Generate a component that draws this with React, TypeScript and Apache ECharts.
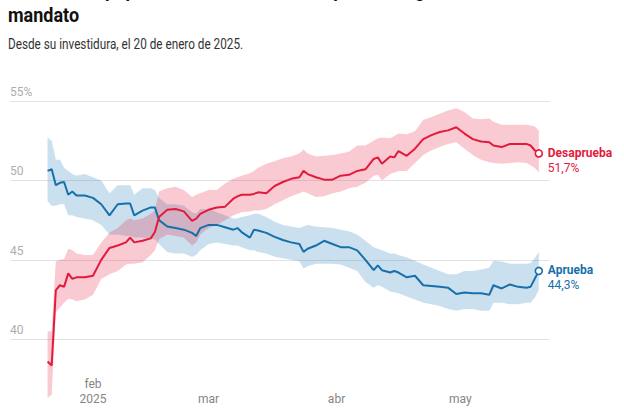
import React, { useEffect, useRef } from "react";
import * as echarts from "echarts";

const dates = ["2025-01-21","2025-01-22","2025-01-23","2025-01-24","2025-01-25","2025-01-26","2025-01-27","2025-01-28","2025-01-30","2025-02-01",
"2025-02-03","2025-02-05","2025-02-07","2025-02-09","2025-02-10","2025-02-11","2025-02-13","2025-02-15","2025-02-16","2025-02-17",
"2025-02-19","2025-02-21","2025-02-23","2025-02-25","2025-02-26","2025-02-27","2025-03-01","2025-03-03","2025-03-05","2025-03-07",
"2025-03-08","2025-03-09","2025-03-11","2025-03-12","2025-03-13","2025-03-15","2025-03-17","2025-03-19","2025-03-21","2025-03-23",
"2025-03-24","2025-03-25","2025-03-27","2025-03-29","2025-03-31","2025-04-02","2025-04-04","2025-04-06","2025-04-08","2025-04-10",
"2025-04-11","2025-04-12","2025-04-14","2025-04-15","2025-04-16","2025-04-18","2025-04-20","2025-04-22","2025-04-24","2025-04-26",
"2025-04-28","2025-04-30","2025-05-02","2025-05-04","2025-05-06","2025-05-08","2025-05-09","2025-05-11","2025-05-13","2025-05-15",
"2025-05-17","2025-05-18","2025-05-19","2025-05-20"];

const approve = [50.6,50.7,49.7,49.85,49.9,49.1,49.3,49.05,49.05,48.9,
48.5,47.8,48.5,48.55,48.55,47.8,48.1,48.3,48.3,47.5,
47.1,47.0,46.9,46.7,46.5,47.0,47.2,47.2,47.05,46.9,
47.0,46.75,46.4,46.9,46.85,46.7,46.45,46.25,46.1,46.0,
45.5,45.7,45.9,46.2,46.0,45.8,45.8,45.6,45.0,44.35,
44.65,44.35,44.2,44.3,44.2,43.9,44.0,43.4,43.35,43.3,
43.25,42.85,42.95,42.9,42.9,42.8,43.4,43.2,43.45,43.3,
43.25,43.3,43.8,44.3];

const approveLow = [48.7,48.4,48.4,48.5,48.5,47.8,47.8,47.7,47.6,47.5,
47.2,46.6,46.6,46.5,46.5,46.4,46.4,46.3,46.3,46.0,
45.5,45.4,45.4,45.2,45.3,45.6,46.0,46.1,46.0,45.9,
45.9,45.8,45.6,45.6,45.5,45.4,45.2,45.1,45.0,44.9,
44.45,44.6,44.75,44.75,44.75,44.7,44.5,44.3,43.6,43.25,
43.4,43.3,43.0,42.95,42.9,42.7,42.5,42.3,42.2,42.1,
41.9,41.8,41.9,41.9,41.8,41.8,42.3,42.3,42.2,42.2,
42.3,42.3,42.6,43.1];

const approveHigh = [52.7,52.5,51.3,51.3,50.8,50.6,50.4,50.3,50.4,50.2,
50.0,49.2,49.7,49.7,49.7,49.1,49.5,49.5,49.4,48.9,
48.5,48.5,48.4,48.0,47.9,48.2,48.2,48.0,47.8,47.6,
47.6,47.7,47.8,47.9,47.9,47.7,47.4,47.2,47.1,47.0,
47.1,47.2,47.1,47.05,47.0,46.9,46.8,46.6,46.2,45.8,
45.7,45.6,45.4,45.4,45.3,45.15,44.95,44.7,44.5,44.3,
44.1,44.1,44.3,44.3,44.4,44.5,44.95,44.9,44.75,44.75,
44.75,44.8,45.1,45.5];

const disapprove = [38.6,38.35,43.1,43.4,43.3,44.15,43.8,43.9,43.9,44.0,
45.0,45.75,45.9,46.1,46.4,46.1,46.2,46.35,46.75,47.7,
48.15,48.2,48.05,47.45,47.6,47.9,48.15,48.3,48.35,48.85,
49.0,49.1,49.1,49.15,49.25,49.2,49.65,49.9,50.1,50.2,
50.6,50.4,50.2,50.05,50.05,50.3,50.35,50.6,50.7,51.35,
51.45,51.05,51.5,51.45,51.85,51.55,52.0,52.6,52.85,53.05,
53.15,53.35,52.95,52.6,52.45,52.4,52.2,52.1,52.3,52.3,
52.3,52.2,51.9,51.7];

const disapproveLow = [36.3,36.5,41.7,42.0,42.3,42.55,42.5,42.4,42.5,42.8,
43.8,44.1,44.3,44.7,44.75,44.75,44.85,45.3,45.6,46.3,
46.6,46.5,46.4,45.9,46.1,46.6,47.0,47.2,47.5,47.8,
47.9,48.0,48.05,48.1,48.1,48.2,48.5,48.75,49.0,49.2,
49.3,49.2,48.95,49.0,49.2,49.3,49.5,49.6,49.85,50.3,
50.35,50.0,50.4,50.5,50.6,50.6,51.1,51.6,51.9,52.1,
52.3,52.4,52.0,51.6,51.3,51.15,51.1,51.05,51.1,51.15,
51.1,50.95,50.8,50.5];

const disapproveHigh = [40.5,40.5,44.9,45.0,45.05,45.7,45.6,45.4,45.3,45.3,
46.1,46.7,47.0,47.5,47.6,47.5,47.6,47.9,48.1,49.3,
49.5,49.6,49.4,48.95,49.1,49.2,49.4,49.4,49.8,50.1,
50.2,50.3,50.45,50.6,50.8,51.05,51.2,51.4,51.5,51.7,
51.95,51.7,51.5,51.55,51.6,51.7,51.8,52.2,52.2,52.5,
52.65,52.7,52.65,52.8,52.95,52.9,53.1,53.8,54.0,54.2,
54.4,54.55,54.3,53.9,53.85,53.9,53.7,53.5,53.5,53.5,
53.5,53.45,53.4,53.15];

const tickDates = ["2025-02-01", "2025-03-01", "2025-04-01", "2025-05-01"];
const tickLabels = ["feb\n2025", "mar", "abr", "may"];
const yTicks = [35, 40, 45, 50, 55];

const titleLines = ["El índice de popularidad de Donald Trump en su segundo", "mandato"];
const subtitle = "Desde su investidura, el 20 de enero de 2025.";
const seriesNames = ["Aprueba", "Desaprueba"];

const RED = "#e31a3c";
const BLUE = "#1770ab";
const RED_BAND = "rgba(227,26,60,0.23)";
const BLUE_BAND = "rgba(31,119,180,0.23)";
const FONT = "Roboto";

const ts = (s: string) => {
  const [y, m, d] = s.split("-").map(Number);
  return new Date(y, m - 1, d).getTime();
};
const fmtPct = (v: number) => v.toFixed(1).replace(".", ",") + "%";

export default function App() {
  const ref = useRef<HTMLDivElement>(null);
  useEffect(() => {
    document.body.style.margin = "0";
    if (!ref.current) return;
    const chart = echarts.init(ref.current, null, { renderer: "svg" });
    const xs = dates.map(ts);
    const tickTs = tickDates.map(ts);
    const xMin = new Date(2025, 0, 11, 21, 36).getTime();
    const xMax = new Date(2025, 4, 22, 17, 0).getTime();

    const band = (name: string, low: number[], high: number[], color: string) => ({
      type: "custom",
      name,
      silent: true,
      z: 1,
      data: xs.map((x, i) => [x, low[i], high[i]]),
      encode: { x: 0, y: [1, 2] },
      renderItem: (params: any, api: any) => {
        if (params.dataIndex !== 0) return null;
        const upper = xs.map((x, i) => api.coord([x, high[i]]));
        const lower = xs.map((x, i) => api.coord([x, low[i]])).reverse();
        return {
          type: "polygon",
          shape: { points: upper.concat(lower) },
          style: { fill: color },
        };
      },
    });
    const mainLine = (name: string, vals: number[], color: string) => ({
      type: "line",
      name,
      color,
      data: xs.map((x, i) =>
        i === xs.length - 1
          ? {
              value: [x, vals[i]],
              symbol: "circle",
              symbolSize: 7,
              itemStyle: { color: "#fff", borderColor: color, borderWidth: 1.6 },
            }
          : [x, vals[i]]
      ),
      symbol: "none",
      showSymbol: true,
      lineStyle: { color, width: 2 },
      z: 3,
      endLabel: {
        show: true,
        distance: 9,
        offset: [0, 7],
        formatter: () => `{n|${name}}\n{v|${fmtPct(vals[vals.length - 1])}}`,
        rich: {
          n: { fontFamily: FONT, fontWeight: "bold", fontSize: 12, color, lineHeight: 15 },
          v: { fontFamily: FONT, fontSize: 12, color, lineHeight: 15 },
        },
      },
    });

    chart.setOption({
      animation: false,
      textStyle: { fontFamily: FONT },
      grid: { left: 10, right: 74, top: 101, height: 317.7, containLabel: false, outerBoundsMode: "none" },
      xAxis: {
        type: "value",
        min: xMin,
        max: xMax,
        axisLine: { show: false },
        axisTick: { show: false },
        splitLine: { show: false },
        axisLabel: {
          inside: true,
          margin: 11.9,
          customValues: tickTs,
          color: "#858585",
          fontSize: 12,
          lineHeight: 15,
          fontFamily: FONT,
          formatter: (v: number) => {
            const k = tickTs.indexOf(v);
            return k >= 0 ? tickLabels[k] : "";
          },
        },
      },
      yAxis: {
        type: "value",
        min: yTicks[0],
        max: yTicks[yTicks.length - 1],
        interval: 5,
        axisLine: { show: false },
        axisTick: { show: false },
        splitLine: { lineStyle: { color: "#e3e3e3", width: 1 } },
        axisLabel: {
          inside: true,
          margin: 0,
          align: "left",
          verticalAlign: "bottom",
          lineHeight: 12,
          padding: [0, 0, 3, 0],
          color: "#adadad",
          fontSize: 12,
          fontFamily: FONT,
          formatter: (v: number) =>
            v === yTicks[0] ? "" : v === yTicks[yTicks.length - 1] ? `${v}%` : String(v),
        },
      },
      graphic: [
        {
          type: "text",
          x: 8,
          y: -9.5,
          scaleX: 0.9,
          style: { text: titleLines[0], fontFamily: FONT, fontWeight: "bold", fontSize: 20, fill: "#111", verticalAlign: "middle" },
        },
        {
          type: "text",
          x: 8,
          y: 14.9,
          scaleX: 0.9,
          style: { text: titleLines[1], fontFamily: FONT, fontWeight: "bold", fontSize: 20, fill: "#111", verticalAlign: "middle" },
        },
        {
          type: "text",
          x: 8,
          y: 44.6,
          scaleX: 0.84,
          style: { text: subtitle, fontFamily: FONT, fontSize: 14, fill: "#333", verticalAlign: "middle" },
        },
      ],
      series: [
        band("apBand", approveLow, approveHigh, BLUE_BAND),
        band("deBand", disapproveLow, disapproveHigh, RED_BAND),
        mainLine(seriesNames[0], approve, BLUE),
        mainLine(seriesNames[1], disapprove, RED),
      ],
    });
    return () => chart.dispose();
  }, []);
  return <div ref={ref} style={{ width: 624, height: 416 }} />;
}
